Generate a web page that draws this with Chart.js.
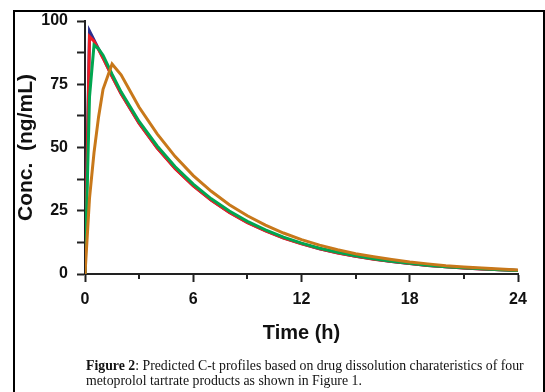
<!DOCTYPE html>
<html>
<head>
<meta charset="utf-8">
<script src="https://cdn.jsdelivr.net/npm/chart.js@4.4.0/dist/chart.umd.min.js"></script>
<style>
  html, body { margin: 0; padding: 0; background: #fff; }
  body { width: 545px; height: 392px; position: relative; overflow: hidden; }
  #frame {
    position: absolute; left: 13px; top: 10px; width: 528px; height: 420px;
    border: 2px solid #000; pointer-events: none;
  }
  #wrap { position: absolute; left: 0; top: 0; width: 545px; height: 360px; }
  #caption {
    position: absolute; left: 86px; top: 358px; width: 455px;
    font-family: "Liberation Serif", "Times New Roman", serif;
    font-size: 13.8px; line-height: 15px; color: #111; white-space: nowrap;
  }
</style>
</head>
<body>
<div id="wrap"><canvas id="c" width="545" height="360"></canvas></div>
<div id="frame"></div>
<div id="caption"><b>Figure 2</b>: Predicted C-t profiles based on drug dissolution charateristics of four<br>metoprolol tartrate products as shown in Figure 1.</div>
<script>
// time points (h) and predicted concentrations (ng/mL)
const times = [0, 0.25, 0.5, 0.75, 1, 1.5, 2, 3, 4, 5, 6, 7, 8, 9, 10, 11, 12, 13, 14, 15, 16, 17, 18, 19, 20, 21, 22, 23, 24];
const blueConc = [0, 96, 92.5, 89, 85.5, 78.2, 71.3, 59.6, 49.9, 41.7, 34.9, 29.2, 24.4, 20.4, 17.1, 14.3, 12.0, 10.0, 8.4, 7.0, 5.9, 4.9, 4.1, 3.4, 2.9, 2.4, 2.0, 1.7, 1.4];
const redConc = [0, 93.8, 92, 88.7, 85.3, 78.0, 71.2, 59.5, 49.8, 41.6, 34.8, 29.1, 24.3, 20.3, 17.0, 14.2, 11.9, 10.0, 8.3, 7.0, 5.8, 4.9, 4.1, 3.4, 2.9, 2.4, 2.0, 1.7, 1.4];
const greenConc = [0, 70, 90.5, 89, 86.5, 79, 72, 60.3, 50.6, 42.4, 35.5, 29.7, 24.9, 20.8, 17.4, 14.6, 12.2, 10.2, 8.6, 7.2, 6.0, 5.0, 4.2, 3.5, 2.9, 2.5, 2.1, 1.7, 1.4];
const orangeConc = [0, 30, 48, 62, 73, 83, 78.7, 65.9, 55.4, 46.4, 38.9, 32.7, 27.4, 23.0, 19.3, 16.2, 13.6, 11.4, 9.6, 8.0, 6.8, 5.7, 4.7, 4.0, 3.3, 2.8, 2.4, 2.0, 1.6];

const xMinorTicks = [3, 9, 15, 21];

const FONT = '"Liberation Sans", Arial, sans-serif';
const INK = "#222";

function pts(ys) {
  return times.map((t, i) => ({ x: t, y: ys[i] }));
}

function line(data, color) {
  return {
    data: pts(data),
    borderColor: color,
    backgroundColor: color,
    borderWidth: 3,
    pointRadius: 0,
    fill: false,
    tension: 0,
  };
}

// short ticks between the labelled ones on the time axis
const minorTicks = {
  id: "minorTicks",
  afterDraw(chart) {
    const ctx = chart.ctx;
    const sx = chart.scales.x;
    const bottom = chart.chartArea.bottom;
    ctx.save();
    ctx.strokeStyle = INK;
    ctx.lineWidth = 2;
    xMinorTicks.forEach(v => {
      const px = Math.round(sx.getPixelForValue(v));
      ctx.beginPath();
      ctx.moveTo(px, bottom);
      ctx.lineTo(px, bottom + 5);
      ctx.stroke();
    });
    ctx.restore();
  }
};

new Chart(document.getElementById("c"), {
  type: "line",
  data: {
    datasets: [
      line(orangeConc, "#c8781a"),
      line(greenConc, "#00a650"),
      line(redConc, "#ee1c25"),
      line(blueConc, "#2b2f8f"),
    ],
  },
  options: {
    responsive: false,
    devicePixelRatio: 1,
    animation: false,
    layout: { padding: { left: 0, top: 21, right: 27, bottom: 0 } },
    plugins: {
      legend: { display: false },
      tooltip: { enabled: false },
    },
    scales: {
      x: {
        type: "linear",
        min: 0,
        max: 24,
        afterFit(s) { s.height = 86; },
        ticks: {
          stepSize: 6,
          padding: 8,
          color: "#111",
          font: { family: FONT, size: 16, weight: "bold" },
        },
        grid: { drawOnChartArea: false, tickLength: 8, tickWidth: 2, tickColor: INK },
        border: { color: INK, width: 2 },
        title: {
          display: true,
          text: "Time (h)",
          color: "#111",
          font: { family: FONT, size: 20, weight: "bold" },
          padding: { top: 0, bottom: 15 },
        },
      },
      y: {
        min: 0,
        max: 100,
        afterFit(s) { s.width = 85; },
        ticks: {
          stepSize: 12.5,
          padding: 9,
          color: "#111",
          font: { family: FONT, size: 16, weight: "bold" },
          callback: v => (v % 25 === 0 ? v : ""),
        },
        grid: { drawOnChartArea: false, tickLength: 8, tickWidth: 2, tickColor: INK },
        border: { color: INK, width: 2 },
        title: {
          display: true,
          text: "Conc.  (ng/mL)",
          color: "#111",
          font: { family: FONT, size: 21, weight: "bold" },
          padding: { top: 14, bottom: 0 },
        },
      },
    },
  },
  plugins: [minorTicks],
});
</script>
</body>
</html>
